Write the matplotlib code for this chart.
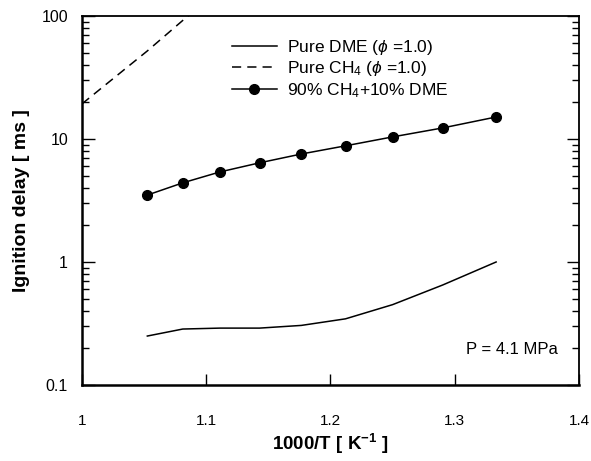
import matplotlib
matplotlib.use("Agg")
import matplotlib.pyplot as plt
from matplotlib.ticker import LogLocator, NullFormatter

plt.rcParams['font.family'] = ['Liberation Sans', 'DejaVu Sans']
plt.rcParams['mathtext.fontset'] = 'custom'
plt.rcParams['mathtext.rm'] = 'Liberation Sans'
plt.rcParams['mathtext.it'] = 'Liberation Sans:italic'
plt.rcParams['mathtext.bf'] = 'Liberation Sans:bold'

# 1000/T points
inv_t = [1.0526, 1.0811, 1.1111, 1.1429, 1.1765, 1.2121, 1.25, 1.2903, 1.3333]
mix_delay = [3.5, 4.4, 5.4, 6.4, 7.55, 8.8, 10.4, 12.3, 15.1]
dme_delay = [0.25, 0.285, 0.29, 0.29, 0.305, 0.345, 0.45, 0.65, 1.0]

ch4_inv_t = [1.0, 1.0526, 1.0811, 1.1111]
ch4_delay = [19.3, 52, 92, 166]

x_ticks = [1, 1.1, 1.2, 1.3, 1.4]
x_tick_labels = ["1", "1.1", "1.2", "1.3", "1.4"]
y_ticks = [0.1, 1, 10, 100]
y_tick_labels = ["0.1", "1", "10", "100"]

fig = plt.figure(figsize=(5.91, 4.61), dpi=100)
ax = fig.add_axes([0.1387, 0.1649, 0.841, 0.8004])

ax.plot(inv_t, dme_delay, color='black', lw=1.1, label=r'Pure DME ($\phi$ =1.0)')
ax.plot(ch4_inv_t, ch4_delay, color='black', lw=1.1, dashes=(6, 4),
        label=r'Pure CH$_4$ ($\phi$ =1.0)')
ax.plot(inv_t, mix_delay, color='black', lw=1.1, marker='o', markersize=7,
        label=r'90% CH$_4$+10% DME')

ax.set_yscale('log')
ax.set_xlim(1, 1.4)
ax.set_ylim(0.1, 100)

ax.set_xticks(x_ticks)
ax.set_xticklabels(x_tick_labels, fontsize=11)
ax.set_yticks(y_ticks)
ax.set_yticklabels(y_tick_labels, fontsize=11.5)
ax.yaxis.set_minor_locator(LogLocator(base=10, subs=range(2, 10)))
ax.yaxis.set_minor_formatter(NullFormatter())

ax.tick_params(axis='x', which='major', direction='in', length=8, width=1,
               top=False, pad=21)
ax.tick_params(axis='y', which='major', direction='in', length=9, width=1,
               right=True, pad=10)
ax.tick_params(axis='y', which='minor', direction='in', length=5, width=1,
               right=True)

for side in ['left', 'bottom']:
    ax.spines[side].set_linewidth(1.8)
for side in ['top', 'right']:
    ax.spines[side].set_linewidth(1.3)

ax.set_xlabel(r'1000/T [ K$^{\mathbf{-1}}$ ]', fontsize=13.5, fontweight='bold', labelpad=3)
ax.set_ylabel('Ignition delay [ ms ]', fontsize=14, fontweight='bold', labelpad=8)

ax.text(1.383, 0.196, 'P = 4.1 MPa', ha='right', va='center', fontsize=12)

ax.legend(loc='upper left', bbox_to_anchor=(0.27, 0.983), frameon=False,
          fontsize=12.5, handlelength=2.6, handletextpad=0.6, labelspacing=0.15)

fig.savefig('out.png', dpi=100)
